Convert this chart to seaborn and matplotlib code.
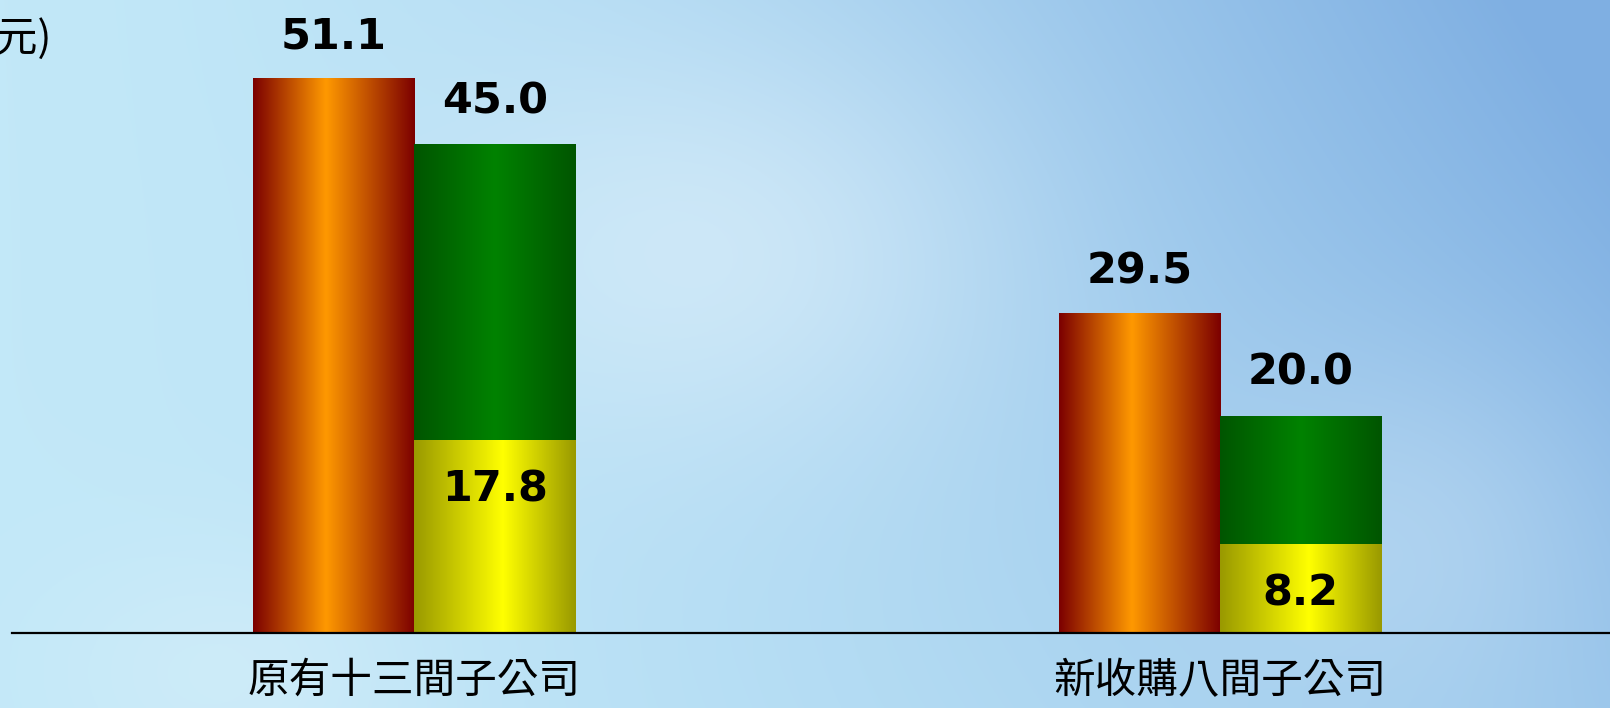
import numpy as np
import pandas as pd
import matplotlib
matplotlib.use("Agg")
import matplotlib.pyplot as plt
from matplotlib.colors import LinearSegmentedColormap, to_rgb
import seaborn as sns

# data
categories = ['原有十三間子公司', '新收購八間子公司']
orange_vals = [51.1, 29.5]
green_vals = [45.0, 20.0]
yellow_vals = [17.8, 8.2]   # part of the green bar
unit_label = '(億元)'

sns.set_style('white')
plt.rcParams['font.family'] = ['Noto Sans CJK TC', 'DejaVu Sans']
plt.rcParams['text.color'] = 'black'
plt.rcParams['xtick.color'] = 'black'

df = pd.DataFrame({
    'cat': categories * 2,
    'val': orange_vals + green_vals,
    'series': ['orange'] * 2 + ['green'] * 2,
})

fig = plt.figure(figsize=(16.1, 7.08), dpi=100)

# sky background
bg = fig.add_axes([0, 0, 1, 1], zorder=-10)
h, w = 354, 805
u, v = np.meshgrid(np.linspace(0, 1, w), np.linspace(0, 1, h))
left_c = np.array(to_rgb('#c2e8f8'))
right_c = np.array(to_rgb('#7fafe2'))
t = np.clip(u ** 1.6 * (1.1 - 0.5 * v), 0, 1)[..., None]
img = left_c * (1 - t) + right_c * t
cloud = np.exp(-(((u - 0.45) / 0.18) ** 2 + ((v - 0.35) / 0.3) ** 2))
cloud += 0.6 * np.exp(-(((u - 0.15) / 0.12) ** 2 + ((v - 0.95) / 0.2) ** 2))
cloud += 0.5 * np.exp(-(((u - 0.88) / 0.12) ** 2 + ((v - 0.75) / 0.25) ** 2))
cloud = np.clip(cloud, 0, 1)[..., None] * 0.45
img = img * (1 - cloud) + np.array(to_rgb('#eef8fd')) * cloud
bg.imshow(img, aspect='auto', extent=[0, 1, 0, 1])
bg.axis('off')

ax = fig.add_axes([12 / 1610, 75 / 708, 1 - 12 / 1610, 633 / 708])
ax.set_facecolor('none')

sns.barplot(data=df, x='cat', y='val', hue='series', hue_order=['orange', 'green'],
            width=0.4, ax=ax, legend=False, errorbar=None)

orange_patches = ax.patches[:2]
green_patches = ax.patches[2:4]
yellow_patches = []
for p, yv in zip(green_patches, yellow_vals):
    bars = ax.bar(p.get_x(), yv, width=p.get_width(), align='edge', zorder=3)
    yellow_patches.append(bars[0])

cmap_orange = LinearSegmentedColormap.from_list('o', [(0, '#7c0000'), (0.45, '#ff9900'), (1, '#7c0000')])
cmap_green = LinearSegmentedColormap.from_list('g', [(0, '#005500'), (0.5, '#008200'), (1, '#005500')])
cmap_yellow = LinearSegmentedColormap.from_list('y', [(0, '#999900'), (0.55, '#ffff00'), (1, '#999900')])

grad = np.linspace(0, 1, 256)[None, :]
for patches, cmap, z in [(orange_patches, cmap_orange, 2), (green_patches, cmap_green, 2),
                         (yellow_patches, cmap_yellow, 4)]:
    for p in patches:
        x0, x1 = p.get_x(), p.get_x() + p.get_width()
        p.set_facecolor('none')
        p.set_edgecolor('none')
        im = ax.imshow(grad, cmap=cmap, aspect='auto', extent=[x0, x1, 0, p.get_height()],
                       zorder=z, interpolation='bicubic')
        im.set_clip_path(p)

ax.set_xlim(-0.499, 1.484)
ax.set_ylim(0, 58.3)

lab_kw = dict(ha='center', va='center', fontsize=31, fontweight='bold', color='black',
              family='DejaVu Sans', textcoords='offset points', zorder=6)
for p, val in zip(orange_patches, orange_vals):
    ax.annotate(f'{val:.1f}', (p.get_x() + p.get_width() / 2, val), xytext=(0, 30), **lab_kw)
for p, val in zip(green_patches, green_vals):
    ax.annotate(f'{val:.1f}', (p.get_x() + p.get_width() / 2, val), xytext=(0, 31), **lab_kw)
for p, val in zip(yellow_patches, yellow_vals):
    ax.annotate(f'{val:.1f}', (p.get_x() + p.get_width() / 2, val), xytext=(0, -36), **lab_kw)

sns.despine(ax=ax, left=True)
ax.spines['bottom'].set_linewidth(1.6)
ax.spines['bottom'].set_color('black')
ax.spines['bottom'].set_zorder(7)
ax.set_yticks([])
ax.set_xlabel('')
ax.set_ylabel('')
ax.tick_params(axis='x', length=0, pad=20, labelsize=30, labelcolor='black')

fig.text(52 / 1610, 1 - 38 / 708, unit_label, ha='right', va='center', fontsize=30,
         color='black')

fig.savefig('out.png', dpi=100)
